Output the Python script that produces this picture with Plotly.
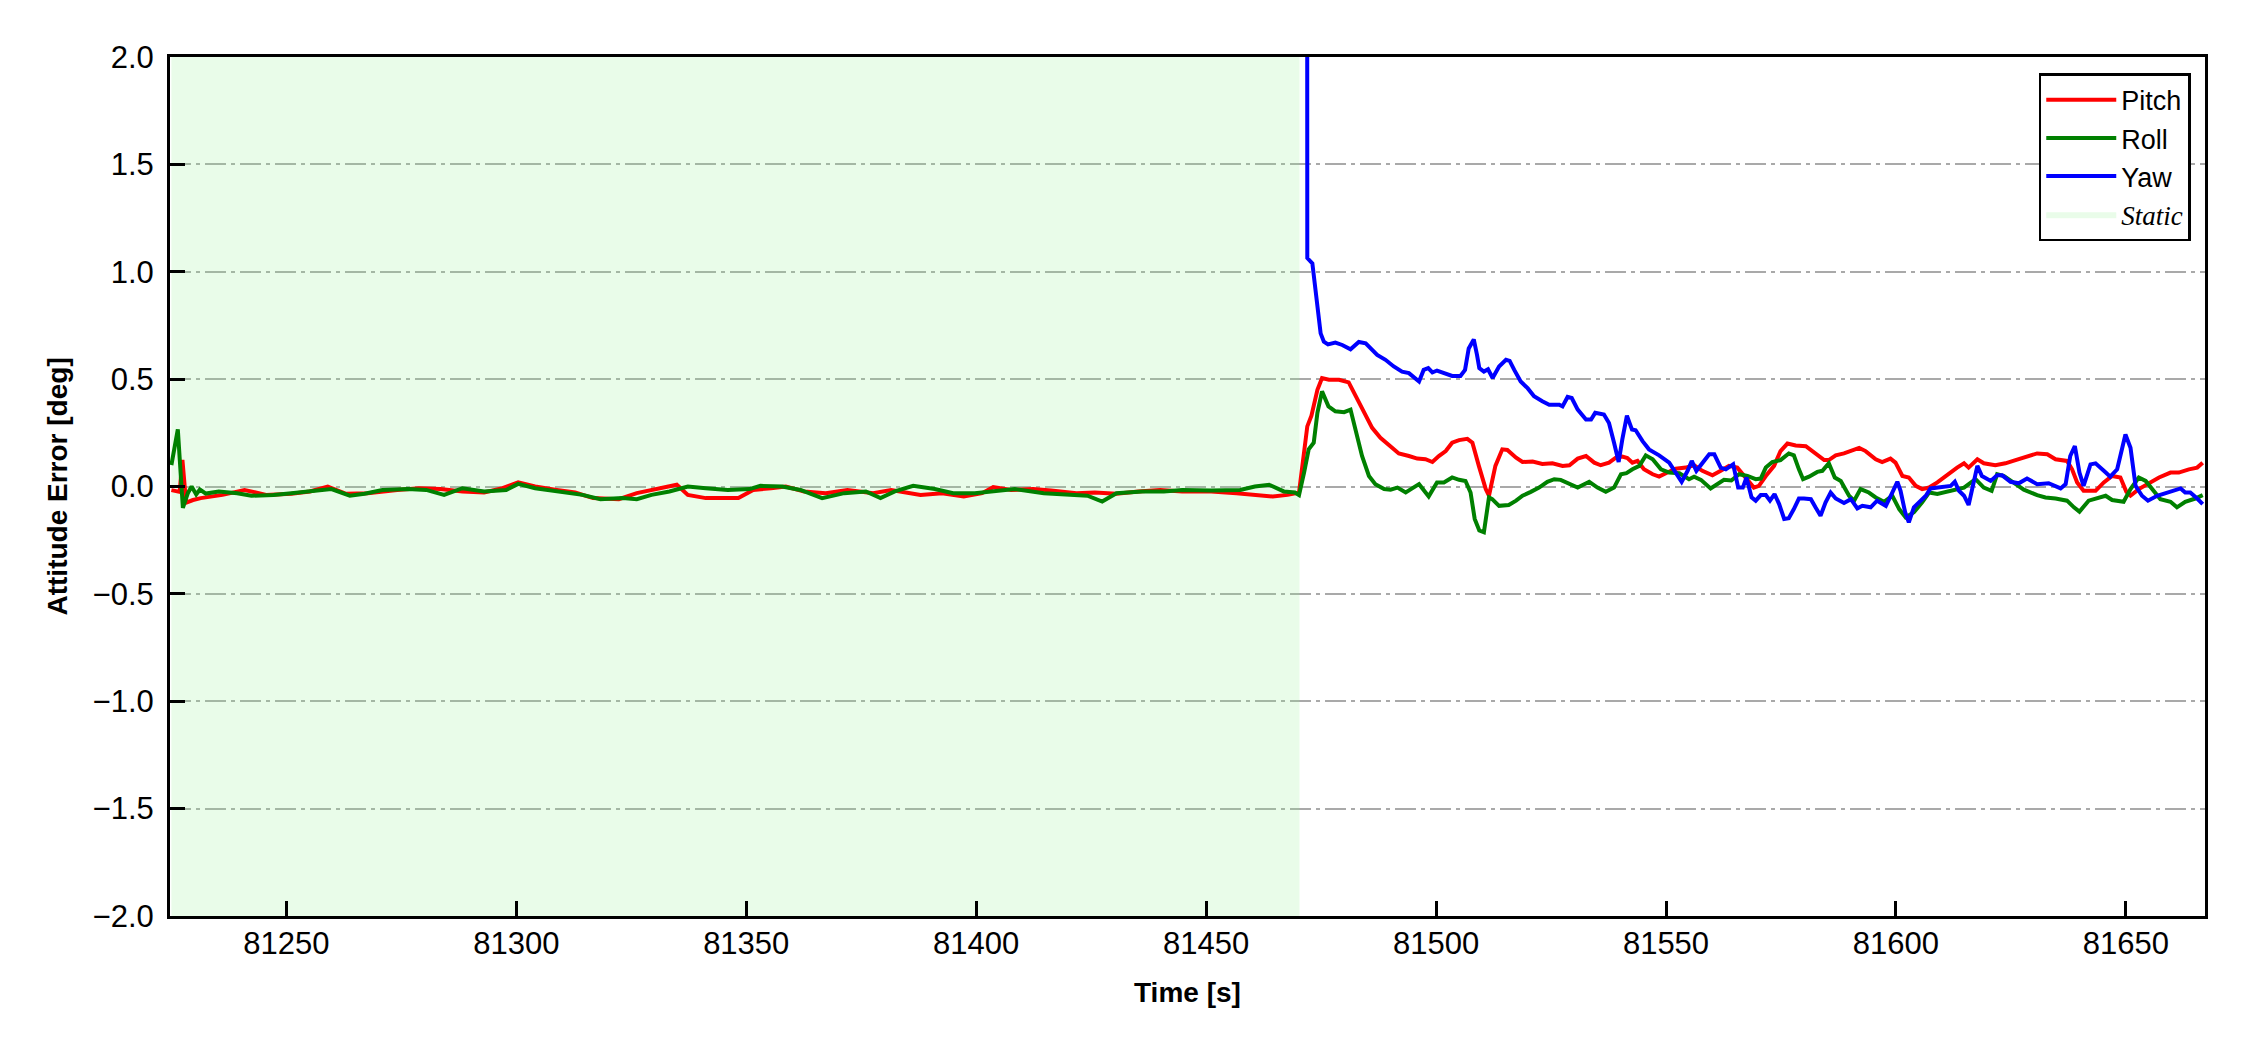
import plotly.graph_objects as go

# ---------------- data ----------------
static_start = 81225.0
static_end = 81470.3

x_range = [81224.7, 81667.2]
y_range = [-2.0, 2.0]

x_tick_vals = [81250, 81300, 81350, 81400, 81450, 81500, 81550, 81600, 81650]
x_tick_text = ["81250", "81300", "81350", "81400", "81450", "81500", "81550", "81600", "81650"]
y_tick_vals = [-2.0, -1.5, -1.0, -0.5, 0.0, 0.5, 1.0, 1.5, 2.0]
y_tick_text = ["\u22122.0", "\u22121.5", "\u22121.0", "\u22120.5", "0.0", "0.5", "1.0", "1.5", "2.0"]

pitch_pts = [
    (81225.0, -0.017), (81225.9, -0.020), (81226.8, -0.025), (81227.4, 0.124), (81228.2, -0.075),
    (81229.7, -0.063), (81231.4, -0.054), (81236.1, -0.039), (81240.9, -0.016), (81245.6, -0.039),
    (81251.1, -0.034), (81255.1, -0.023), (81259.0, 0.000), (81263.0, -0.034), (81267.7, -0.031),
    (81274.1, -0.016), (81278.8, -0.008), (81283.5, -0.012), (81288.3, -0.023), (81293.0, -0.028),
    (81297.0, -0.008), (81300.4, 0.019), (81304.1, 0.000), (81308.8, -0.016), (81312.8, -0.028),
    (81316.7, -0.054), (81322.3, -0.059), (81326.2, -0.031), (81331.0, -0.008), (81334.9, 0.008),
    (81337.3, -0.039), (81341.2, -0.054), (81348.3, -0.054), (81351.5, -0.016), (81355.4, -0.008),
    (81358.6, 0.000), (81362.6, -0.023), (81367.3, -0.031), (81372.0, -0.016), (81377.6, -0.031),
    (81381.5, -0.016), (81387.9, -0.039), (81392.6, -0.031), (81397.3, -0.047), (81401.3, -0.031),
    (81403.7, -0.003), (81407.6, -0.016), (81412.4, -0.012), (81416.3, -0.019), (81421.8, -0.031),
    (81425.8, -0.028), (81430.5, -0.034), (81435.3, -0.023), (81440.0, -0.016), (81444.8, -0.023),
    (81451.1, -0.023), (81456.6, -0.031), (81460.6, -0.039), (81464.5, -0.047), (81467.7, -0.039),
    (81470.2, -0.028), (81472.0, 0.280), (81472.9, 0.330), (81474.2, 0.450), (81475.2, 0.505),
    (81476.7, 0.497), (81478.9, 0.497), (81481.0, 0.485), (81482.5, 0.420), (81484.3, 0.343),
    (81486.1, 0.273), (81487.9, 0.227), (81489.7, 0.196), (81491.9, 0.154), (81494.1, 0.142),
    (81495.9, 0.130), (81497.7, 0.127), (81499.2, 0.114), (81500.6, 0.142), (81502.1, 0.165),
    (81503.5, 0.204), (81505.0, 0.216), (81506.8, 0.222), (81507.9, 0.204), (81509.3, 0.096),
    (81510.8, -0.012), (81511.5, -0.043), (81512.9, 0.096), (81514.4, 0.173), (81515.5, 0.170),
    (81517.4, 0.134), (81518.8, 0.114), (81521.0, 0.116), (81523.1, 0.105), (81525.3, 0.108),
    (81527.5, 0.096), (81529.0, 0.099), (81530.8, 0.130), (81532.6, 0.142), (81534.4, 0.111),
    (81535.8, 0.099), (81537.6, 0.111), (81539.1, 0.134), (81540.5, 0.139), (81541.6, 0.133),
    (81542.7, 0.111), (81543.8, 0.119), (81545.2, 0.080), (81547.1, 0.057), (81548.5, 0.046),
    (81550.3, 0.065), (81552.1, 0.083), (81554.3, 0.088), (81556.1, 0.099), (81557.9, 0.073),
    (81560.1, 0.052), (81561.9, 0.073), (81563.7, 0.096), (81565.5, 0.088), (81567.3, 0.042),
    (81569.1, -0.005), (81570.2, 0.003), (81571.7, 0.049), (81573.5, 0.096), (81574.9, 0.165),
    (81576.4, 0.200), (81578.2, 0.191), (81580.4, 0.188), (81582.2, 0.157), (81584.4, 0.123),
    (81585.4, 0.123), (81586.9, 0.145), (81588.7, 0.154), (81590.5, 0.170), (81592.0, 0.180),
    (81593.4, 0.165), (81595.6, 0.127), (81597.0, 0.114), (81598.8, 0.130), (81599.9, 0.111),
    (81601.4, 0.049), (81602.8, 0.042), (81604.3, 0.003), (81605.7, -0.012), (81607.2, -0.005),
    (81609.0, 0.019), (81610.8, 0.049), (81612.1, 0.073), (81613.3, 0.088), (81614.8, 0.108),
    (81615.8, 0.088), (81617.7, 0.127), (81619.1, 0.108), (81621.6, 0.099), (81623.8, 0.108),
    (81626.0, 0.123), (81628.5, 0.142), (81630.7, 0.154), (81632.9, 0.150), (81634.7, 0.127),
    (81637.2, 0.119), (81638.3, 0.080), (81639.4, 0.019), (81640.8, -0.020), (81643.4, -0.020),
    (81645.2, 0.019), (81647.0, 0.049), (81648.8, 0.042), (81650.1, -0.025), (81651.0, -0.043),
    (81652.8, -0.012), (81655.0, 0.015), (81657.2, 0.042), (81659.7, 0.065), (81661.5, 0.065),
    (81663.7, 0.080), (81665.5, 0.088), (81666.7, 0.111),
]

roll_pts = [
    (81225.0, 0.100), (81226.4, 0.266), (81227.5, -0.099), (81228.6, -0.030), (81229.4, 0.000),
    (81230.4, -0.037), (81231.2, -0.014), (81232.5, -0.033), (81235.3, -0.023), (81239.3, -0.031),
    (81242.4, -0.043), (81247.2, -0.039), (81251.1, -0.031), (81255.1, -0.023), (81259.8, -0.012),
    (81263.8, -0.043), (81267.0, -0.034), (81270.9, -0.016), (81276.4, -0.012), (81280.4, -0.016),
    (81284.3, -0.039), (81288.3, -0.008), (81293.0, -0.023), (81297.8, -0.016), (81300.4, 0.012),
    (81304.1, -0.008), (81309.6, -0.023), (81314.4, -0.039), (81318.3, -0.059), (81323.1, -0.054),
    (81326.2, -0.059), (81329.4, -0.039), (81333.3, -0.023), (81337.3, 0.000), (81341.2, -0.008),
    (81346.0, -0.016), (81350.7, -0.012), (81353.1, 0.003), (81357.8, 0.000), (81361.8, -0.016),
    (81366.5, -0.054), (81371.3, -0.031), (81376.0, -0.023), (81379.2, -0.054), (81382.3, -0.023),
    (81386.3, 0.003), (81391.0, -0.012), (81395.0, -0.031), (81399.7, -0.031), (81404.5, -0.023),
    (81408.4, -0.012), (81414.7, -0.031), (81421.0, -0.039), (81424.2, -0.043), (81427.4, -0.070),
    (81430.5, -0.031), (81436.1, -0.023), (81440.8, -0.023), (81444.8, -0.016), (81451.1, -0.019),
    (81457.4, -0.016), (81460.6, 0.000), (81463.7, 0.008), (81466.9, -0.023), (81469.3, -0.028),
    (81470.2, -0.040), (81471.3, 0.065), (81472.3, 0.173), (81473.4, 0.204), (81474.2, 0.343),
    (81475.2, 0.443), (81476.6, 0.373), (81478.1, 0.350), (81480.0, 0.346), (81481.4, 0.358),
    (81482.5, 0.265), (81483.9, 0.142), (81485.4, 0.049), (81486.8, 0.011), (81488.7, -0.012),
    (81490.1, -0.015), (81491.6, -0.005), (81493.4, -0.028), (81494.8, -0.009), (81496.3, 0.011),
    (81498.4, -0.046), (81500.2, 0.019), (81501.7, 0.019), (81503.5, 0.042), (81505.0, 0.031),
    (81506.4, 0.026), (81507.5, -0.028), (81508.4, -0.151), (81509.4, -0.205), (81510.4, -0.213),
    (81511.5, -0.051), (81512.2, -0.059), (81513.7, -0.090), (81515.8, -0.086), (81517.4, -0.066),
    (81518.8, -0.043), (81520.6, -0.025), (81522.4, -0.005), (81524.2, 0.022), (81525.7, 0.034),
    (81527.1, 0.031), (81529.0, 0.011), (81530.8, -0.005), (81533.3, 0.022), (81535.1, -0.005),
    (81536.9, -0.025), (81538.7, -0.005), (81540.2, 0.057), (81541.4, 0.062), (81542.7, 0.080),
    (81544.2, 0.096), (81545.6, 0.145), (81547.1, 0.127), (81548.9, 0.080), (81550.7, 0.065),
    (81552.9, 0.062), (81555.0, 0.034), (81556.1, 0.046), (81557.6, 0.031), (81559.7, -0.009),
    (81561.2, 0.011), (81562.6, 0.031), (81564.2, 0.028), (81565.9, 0.057), (81567.7, 0.049),
    (81569.5, 0.034), (81570.6, 0.037), (81571.7, 0.088), (81573.1, 0.114), (81574.9, 0.123),
    (81576.7, 0.154), (81577.8, 0.145), (81578.9, 0.080), (81579.8, 0.034), (81581.1, 0.046),
    (81582.9, 0.068), (81584.0, 0.073), (81585.4, 0.108), (81586.7, 0.042), (81588.0, 0.026),
    (81589.8, -0.043), (81590.9, -0.066), (81592.3, -0.012), (81594.1, -0.028), (81595.6, -0.051),
    (81597.4, -0.071), (81599.2, -0.043), (81600.7, -0.105), (81602.1, -0.144), (81603.9, -0.120),
    (81605.7, -0.074), (81607.2, -0.028), (81609.0, -0.035), (81610.8, -0.025), (81612.6, -0.018),
    (81614.8, -0.005), (81617.3, 0.034), (81619.1, -0.005), (81620.8, -0.020), (81622.0, 0.057),
    (81623.5, 0.049), (81625.6, 0.015), (81627.8, -0.015), (81630.7, -0.040), (81632.5, -0.051),
    (81634.7, -0.056), (81637.2, -0.066), (81638.7, -0.097), (81639.9, -0.117), (81641.9, -0.066),
    (81643.7, -0.056), (81645.6, -0.043), (81647.0, -0.063), (81649.5, -0.071), (81651.0, -0.012),
    (81652.8, 0.042), (81654.3, 0.026), (81655.7, -0.012), (81657.5, -0.059), (81659.7, -0.071),
    (81661.1, -0.097), (81662.9, -0.071), (81665.1, -0.056), (81666.7, -0.040),
]

yaw_pts = [
    (81471.9, 6.000), (81472.0, 1.064), (81473.1, 1.039), (81473.8, 0.899), (81474.9, 0.713),
    (81475.6, 0.674), (81476.5, 0.662), (81478.1, 0.670), (81479.6, 0.659), (81481.4, 0.639),
    (81483.2, 0.673), (81484.7, 0.667), (81487.2, 0.613), (81489.0, 0.590), (81490.8, 0.559),
    (81492.6, 0.535), (81494.1, 0.528), (81496.3, 0.489), (81497.3, 0.543), (81498.3, 0.551),
    (81499.2, 0.531), (81500.2, 0.540), (81501.7, 0.528), (81503.5, 0.515), (81505.3, 0.515),
    (81506.3, 0.543), (81507.1, 0.643), (81508.2, 0.685), (81508.9, 0.613), (81509.4, 0.551),
    (81510.4, 0.535), (81511.3, 0.546), (81512.3, 0.505), (81513.7, 0.559), (81515.2, 0.590),
    (81516.0, 0.585), (81517.0, 0.543), (81518.4, 0.489), (81519.9, 0.458), (81521.3, 0.420),
    (81523.1, 0.397), (81524.6, 0.381), (81526.8, 0.381), (81527.5, 0.373), (81528.6, 0.417),
    (81529.5, 0.412), (81530.8, 0.358), (81532.6, 0.312), (81533.7, 0.312), (81534.6, 0.343),
    (81536.5, 0.335), (81537.6, 0.296), (81538.7, 0.204), (81539.7, 0.114), (81540.5, 0.219),
    (81541.5, 0.330), (81542.6, 0.265), (81543.4, 0.262), (81544.9, 0.211), (81546.3, 0.173),
    (81548.5, 0.145), (81550.7, 0.111), (81552.1, 0.065), (81553.4, 0.022), (81554.7, 0.073),
    (81555.6, 0.119), (81556.6, 0.073), (81557.9, 0.111), (81559.4, 0.150), (81560.5, 0.150),
    (81561.9, 0.088), (81563.0, 0.080), (81564.6, 0.103), (81565.7, -0.005), (81566.7, -0.005),
    (81567.5, 0.042), (81568.6, -0.051), (81569.5, -0.066), (81570.6, -0.040), (81571.7, -0.040),
    (81572.6, -0.066), (81573.6, -0.035), (81574.6, -0.082), (81575.7, -0.151), (81576.7, -0.148),
    (81577.8, -0.105), (81578.9, -0.056), (81580.0, -0.056), (81581.5, -0.059), (81582.5, -0.097),
    (81583.6, -0.136), (81584.7, -0.074), (81585.8, -0.028), (81586.9, -0.056), (81588.7, -0.077),
    (81590.2, -0.059), (81591.6, -0.102), (81592.7, -0.090), (81594.5, -0.097), (81595.9, -0.066),
    (81597.8, -0.090), (81599.2, -0.028), (81600.3, 0.022), (81601.0, -0.020), (81602.0, -0.120),
    (81602.8, -0.167), (81603.9, -0.097), (81605.0, -0.074), (81606.5, -0.043), (81607.5, -0.009),
    (81608.6, -0.005), (81610.8, 0.000), (81611.9, 0.003), (81612.8, 0.022), (81613.7, -0.020),
    (81614.8, -0.043), (81615.8, -0.086), (81617.7, 0.096), (81618.7, 0.049), (81620.6, 0.026),
    (81622.0, 0.052), (81623.1, 0.052), (81624.9, 0.022), (81626.7, 0.015), (81628.5, 0.037),
    (81630.7, 0.011), (81633.2, 0.015), (81635.8, -0.009), (81636.9, 0.011), (81637.9, 0.142),
    (81638.9, 0.188), (81639.9, 0.065), (81640.8, 0.003), (81642.3, 0.103), (81643.4, 0.108),
    (81645.2, 0.073), (81646.6, 0.046), (81648.1, 0.080), (81649.2, 0.188), (81649.9, 0.242),
    (81651.0, 0.180), (81652.1, 0.003), (81653.5, -0.043), (81654.8, -0.066), (81656.8, -0.043),
    (81659.3, -0.025), (81661.9, -0.009), (81662.9, -0.028), (81664.0, -0.028), (81665.5, -0.056),
    (81666.7, -0.082),
]

pitch_time, pitch_err = zip(*pitch_pts)
roll_time, roll_err = zip(*roll_pts)
yaw_time, yaw_err = zip(*yaw_pts)

# ---------------- figure ----------------
FONT = "Liberation Sans, Arial, sans-serif"
LW = 4

fig = go.Figure()

# static period shading (light green, alpha 0.2)
fig.add_trace(go.Scatter(
    x=[static_start, static_end, static_end, static_start, static_start],
    y=[y_range[0], y_range[0], y_range[1], y_range[1], y_range[0]],
    mode="lines", fill="toself", fillcolor="rgba(144,238,144,0.2)",
    line=dict(width=0, color="rgba(144,238,144,0.2)"),
    name='<span style="font-family:Liberation Serif"><i>Static</i></span>',
    legendrank=4, hoverinfo="skip",
))

fig.add_trace(go.Scatter(x=pitch_time, y=pitch_err, mode="lines", name="Pitch",
                         line=dict(color="#ff0000", width=LW), legendrank=1))
fig.add_trace(go.Scatter(x=roll_time, y=roll_err, mode="lines", name="Roll",
                         line=dict(color="#008000", width=LW), legendrank=2))
fig.add_trace(go.Scatter(x=yaw_time, y=yaw_err, mode="lines", name="Yaw",
                         line=dict(color="#0000ff", width=LW), legendrank=3))

axis_common = dict(
    showline=True, linecolor="black", linewidth=3, mirror=True,
    ticks="inside", ticklen=15, tickwidth=2.5, tickcolor="black",
    tickfont=dict(family=FONT, size=31, color="black"),
    zeroline=False,
)

fig.update_xaxes(
    range=x_range, tickmode="array", tickvals=x_tick_vals, ticktext=x_tick_text,
    showgrid=False, ticklabelstandoff=-2, **axis_common,
)
fig.update_yaxes(
    range=y_range, tickmode="array", tickvals=y_tick_vals, ticktext=y_tick_text,
    showgrid=True, gridcolor="#a9a9a9", gridwidth=2.2, griddash="21px,5px,4px,5px",
    ticklabelstandoff=7, **axis_common,
)

fig.update_layout(
    width=2250, height=1050,
    margin=dict(l=170, r=45, t=57, b=134),
    paper_bgcolor="white", plot_bgcolor="white",
    font=dict(family=FONT, color="black"),
    showlegend=True,
    legend=dict(
        x=0.993, y=0.981, xanchor="right", yanchor="top",
        bgcolor="white", bordercolor="black", borderwidth=2.5,
        font=dict(family=FONT, size=27, color="black"),
        itemwidth=70, tracegroupgap=0,
    ),
    annotations=[
        dict(text="<b>Time [s]</b>", xref="paper", yref="paper", x=0.5, y=0,
             yshift=-76, xanchor="center", yanchor="middle", showarrow=False,
             font=dict(family=FONT, size=28, color="black")),
        dict(text="<b>Attitude Error [deg]</b>", xref="paper", yref="paper", x=0, y=0.5,
             xshift=-113, xanchor="center", yanchor="middle", textangle=-90, showarrow=False,
             font=dict(family=FONT, size=28, color="black")),
    ],
)

fig.write_html("out.html", config={"displayModeBar": False},
               post_script="document.body.style.margin='0px';")
